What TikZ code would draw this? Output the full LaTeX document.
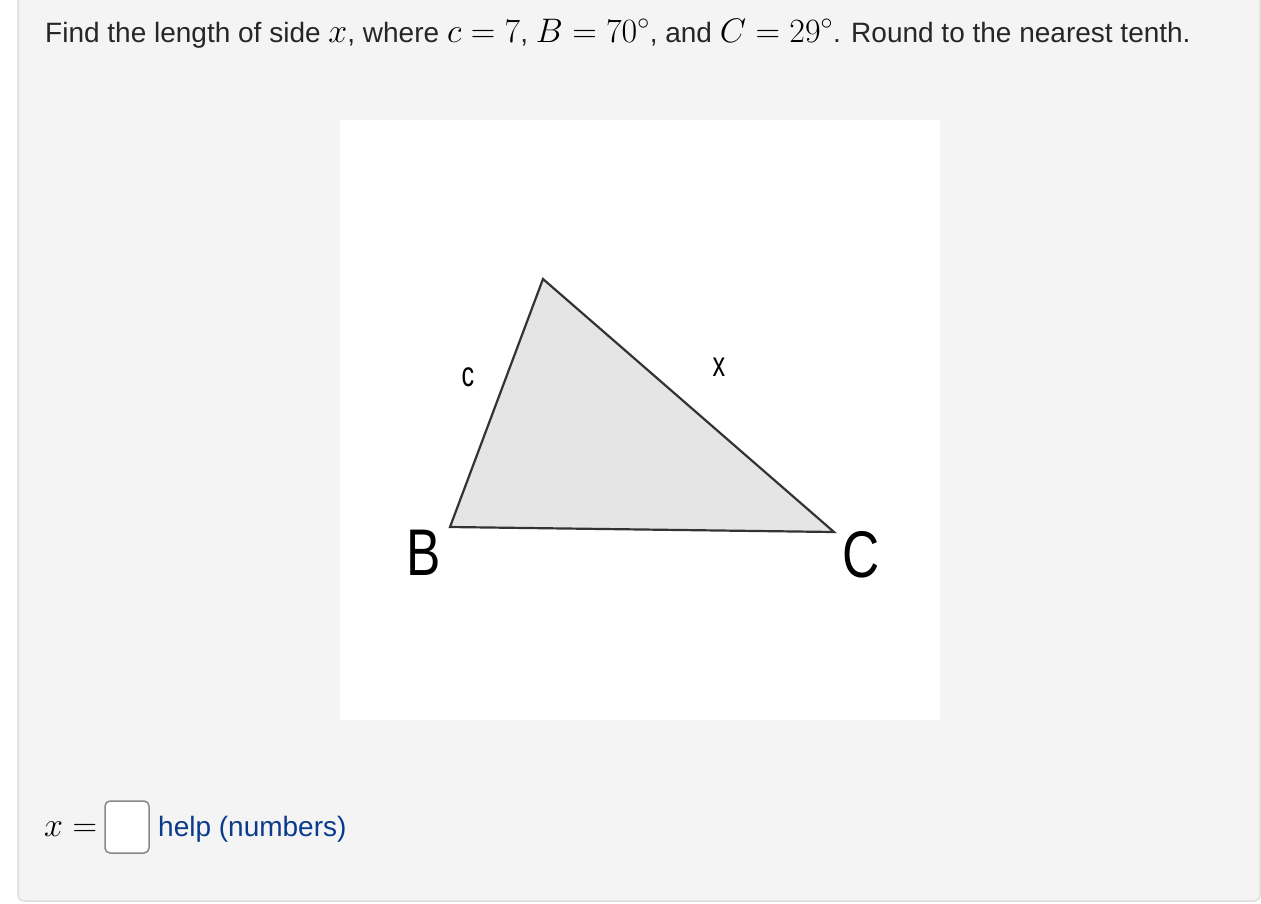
\RequirePackage{fix-cm}
\documentclass[tikz,border=0pt]{standalone}
\usepackage[no-math]{fontspec}
\setmainfont{Liberation Sans}
\usetikzlibrary{calc}
\definecolor{panelgray}{HTML}{F4F4F4}
\definecolor{panelline}{HTML}{DEDEDE}
\definecolor{trifill}{HTML}{E5E5E5}
\definecolor{triline}{HTML}{333333}
\definecolor{helpblue}{HTML}{0B3B8C}
\definecolor{boxline}{HTML}{888888}
\newcommand{\mth}[1]{{\fontsize{34}{36}\selectfont\color{black}$#1$}}
\tikzset{
  txt/.style={anchor=base west, inner sep=0, text=black!85, font=\fontsize{28}{30}\selectfont},
  side/.style={inner sep=0, font=\fontsize{35}{38}\selectfont, xscale=.72},
  vert/.style={inner sep=0, font=\fontsize{66}{70}\selectfont, xscale=.78},
  tri/.style={draw=triline, line width=2.2, fill=trifill, line join=miter}
}
\begin{document}
\begin{tikzpicture}[x=1pt,y=-1pt]
\useasboundingbox (0,0) rectangle (1261,903);
\fill[white] (0,0) rectangle (1261,903);
\draw[panelline, fill=panelgray, line width=1.5, rounded corners=6] (18,-20) rectangle (1260,901);
% question
\node[txt] (q) at (45,42) {Find the length of side \mth{x}, where \mth{c=7}, \mth{B=70^\circ}, and \mth{C=29^\circ}. Round to the nearest tenth.};
% picture
\fill[white] (340,120) rectangle (940,720);
\coordinate (A) at (543,279);
\coordinate (B) at (450,527);
\coordinate (C) at (834,532);
\draw[tri] (A) -- (B) -- (C) -- cycle;
\node[side] (lc) at (468,377) {c};
\node[side] (lx) at (719,367) {x};
\node[vert] (lB) at (424,553) {B};
\node[vert] (lC) at (861,555) {C};
% answer
\node[txt] (xeq) at (44,836) {\mth{x=}};
\node[draw=boxline, fill=white, line width=1.5, rounded corners=5, minimum width=44, minimum height=52, inner sep=0] (ans) at (127,827) {};
\node[txt, text=helpblue] (help) at (158,836) {help (numbers)};
\end{tikzpicture}
\end{document}
